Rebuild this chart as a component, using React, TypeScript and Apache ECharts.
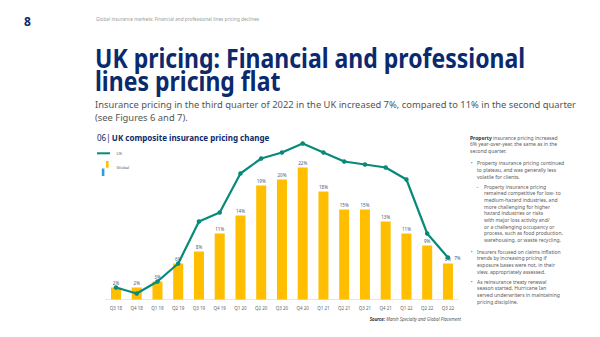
import React, { useEffect, useRef } from "react";
import * as echarts from "echarts";

const categories = ["Q3 18", "Q4 18", "Q1 19", "Q2 19", "Q3 19", "Q4 19", "Q1 20", "Q2 20", "Q3 20", "Q4 20", "Q1 21", "Q2 21", "Q3 21", "Q4 21", "Q1 22", "Q2 22", "Q3 22"];
const globalValues = [2, 2, 3, 6, 8, 11, 14, 19, 20, 22, 18, 15, 15, 13, 11, 9, 6];
const ukValues = [2, 1, 3, 6, 13, 14.5, 21, 23.5, 24.5, 26, 24.5, 23, 22.5, 22, 20, 11, 7];

const pageNumber = "8";
const headerText = "Global insurance markets: Financial and professional lines pricing declines";
const titleLines = ["UK pricing: Financial and professional", "lines pricing flat"];
const subtitleLines = [
  "Insurance pricing in the third quarter of 2022 in the UK increased 7%, compared to 11% in the second quarter",
  "(see Figures 6 and 7).",
];
const chartTitleNum = "06|";
const chartTitle = "UK composite insurance pricing change";
const sourceLabel = "Source:";
const sourceText = "Marsh Specialty and Global Placement";

const introLines = ["{b|Property} insurance pricing increased", "6% year-over-year, the same as in the", "second quarter."];
const bullet1 = ["Property insurance pricing continued", "to plateau, and was generally less", "volatile for clients."];
const dashLines = [
  "Property insurance pricing",
  "remained competitive for low- to",
  "medium-hazard industries, and",
  "more challenging for higher",
  "hazard industries or risks",
  "with major loss activity and/",
  "or a challenging occupancy or",
  "process, such as food production,",
  "warehousing, or waste recycling.",
];
const bullet2 = ["Insurers focused on claims inflation", "trends by increasing pricing if", "exposure bases were not, in their", "view, appropriately assessed."];
const bullet3 = ["As reinsurance treaty renewal", "season started, Hurricane Ian", "served underwriters in maintaining", "pricing discipline."];

const NAVY = "#0B2A6E";
const YELLOW = "#FFBE00";
const TEAL = "#078A7A";
const BLUE = "#2A9FD8";
const BODY = "#5a5a5a";
const FONT = '"Noto Sans", "Open Sans", sans-serif';

function measure(text: string, font: string): number {
  const c = document.createElement("canvas").getContext("2d");
  if (!c) return 1;
  c.font = font;
  return c.measureText(text).width || 1;
}

export default function App() {
  const ref = useRef<HTMLDivElement>(null);
  useEffect(() => {
    if (!ref.current) return;
    const chart = echarts.init(ref.current, undefined, { renderer: "svg" });

    const titleFont = `700 27px "Noto Sans"`;
    const titleScale = 430 / measure(titleLines[0], titleFont);
    const subFont = `400 9.2px "Noto Sans"`;
    const subScale = Math.min(1.1, 481 / measure(subtitleLines[0], subFont));

    const graphics: any[] = [];
    const txt = (x: number, y: number, text: string, style: any = {}, extra: any = {}) =>
      graphics.push({
        type: "text",
        x,
        y,
        ...extra,
        style: { text, fontFamily: FONT, fontSize: 5, fill: BODY, verticalAlign: "middle", ...style },
      });

    txt(24, 21, pageNumber, { fontSize: 12, fontWeight: 700, fill: NAVY });
    txt(96, 19, headerText, { fontSize: 4.7, fill: "#9a9a9a" });
    titleLines.forEach((l, i) =>
      txt(95, 57 + i * 23.5, l, { fontSize: 27, fontWeight: 700, fill: NAVY }, { scaleX: titleScale })
    );
    subtitleLines.forEach((l, i) =>
      txt(95, 105 + i * 13, l, { fontSize: 9.2, fill: "#555" }, { scaleX: subScale })
    );

    txt(97, 137.7, `{a|${chartTitleNum}} {b|${chartTitle}}`, {
      rich: {
        a: { fontFamily: FONT, fontSize: 8, fill: NAVY, fontWeight: 400 },
        b: { fontFamily: FONT, fontSize: 8, fill: NAVY, fontWeight: 700 },
      },
    });

    // legend
    graphics.push({ type: "line", shape: { x1: 97, y1: 153.3, x2: 110, y2: 153.3 }, style: { stroke: TEAL, lineWidth: 2 } });
    txt(116.5, 153.3, "UK", { fontSize: 4.2, fill: "#555" });
    graphics.push({ type: "rect", shape: { x: 106, y: 161, width: 2.6, height: 6.7 }, style: { fill: YELLOW } });
    graphics.push({ type: "rect", shape: { x: 101.8, y: 168.5, width: 2.6, height: 7.5 }, style: { fill: BLUE } });
    txt(116.5, 167.7, "Global", { fontSize: 4.2, fill: "#555" });

    // source
    txt(461, 319.3, `{a|${sourceLabel}} {b|${sourceText}}`, {
      align: "right",
      rich: {
        a: { fontFamily: FONT, fontSize: 4.4, fill: "#333", fontWeight: 700, fontStyle: "italic" },
        b: { fontFamily: FONT, fontSize: 4.4, fill: "#555", fontStyle: "italic" },
      },
    });

    // right column
    const LH = 6.7;
    introLines.forEach((l, i) =>
      txt(470, 137.5 + i * LH, l, { rich: { b: { fontFamily: FONT, fontSize: 5, fontWeight: 700, fill: "#333" } } })
    );
    const bulletBlock = (startY: number, lines: string[]) => {
      txt(470.5, startY, "•", { fill: BLUE, fontSize: 5.5 });
      lines.forEach((l, i) => txt(477, startY + i * LH, l));
    };
    bulletBlock(163.3, bullet1);
    txt(476, 186.5, "–", { fill: BLUE });
    dashLines.forEach((l, i) => txt(484, 186.5 + i * LH, l));
    bulletBlock(251.7, bullet2);
    bulletBlock(281.5, bullet3);

    const lastIdx = ukValues.length - 1;

    chart.setOption({
      animation: false,
      grid: { left: 105.6, right: 141.7, top: 119.5, bottom: 37.5, containLabel: false },
      xAxis: {
        type: "category",
        data: categories,
        axisLine: { show: true, lineStyle: { color: "#d5d5d5", width: 0.6 } },
        axisTick: { show: false },
        axisLabel: { fontSize: 4.5, color: "#666", margin: 6, fontFamily: FONT, interval: 0 },
      },
      yAxis: { type: "value", min: 0, max: 30, show: false, splitLine: { show: false } },
      series: [
        {
          name: "Global",
          type: "bar",
          data: globalValues,
          barWidth: 10,
          itemStyle: { color: YELLOW },
          label: {
            show: true,
            position: "top",
            distance: 2,
            formatter: "{c}%",
            fontSize: 4.5,
            color: "#4a5878",
            fontFamily: FONT,
          },
          z: 2,
        },
        {
          name: "UK",
          type: "line",
          data: ukValues.map((v, i) =>
            i === lastIdx
              ? { value: v, label: { show: true, position: "right", distance: 4, formatter: "{c}%", fontSize: 4.5, color: "#4a5878", fontFamily: FONT } }
              : v
          ),
          symbol: "circle",
          symbolSize: 4.5,
          lineStyle: { color: TEAL, width: 2.2 },
          itemStyle: { color: TEAL },
          z: 3,
        },
      ],
      graphic: graphics,
    });

    return () => chart.dispose();
  }, []);

  return <div ref={ref} style={{ position: "absolute", left: 0, top: 0, width: 600, height: 337 }} />;
}
